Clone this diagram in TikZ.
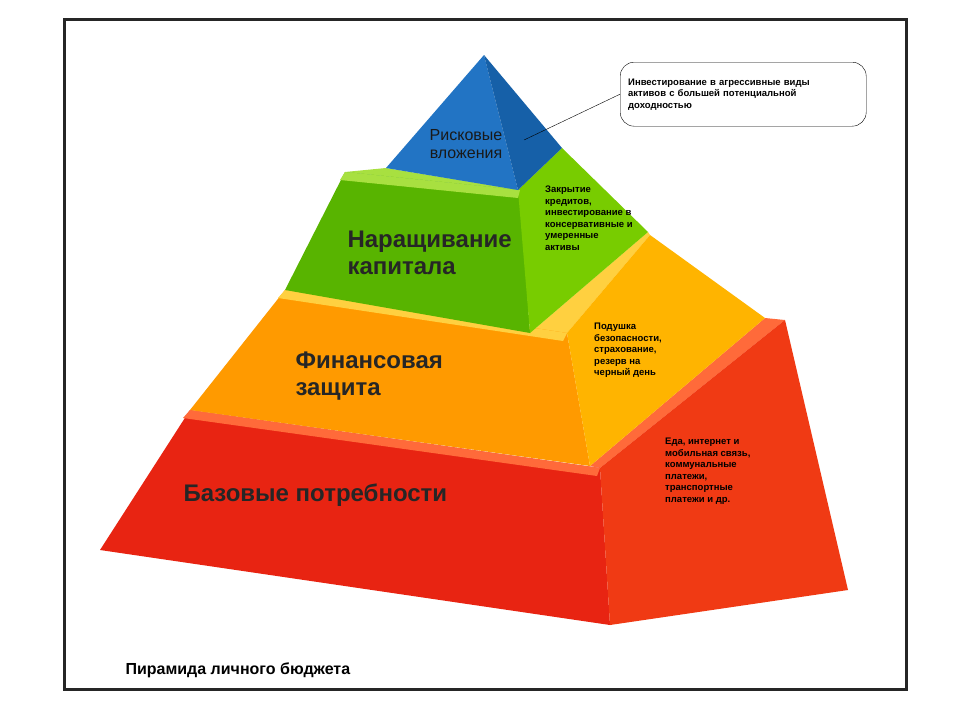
\documentclass[tikz,border=0pt]{standalone}
\usepackage{fontspec}
\setmainfont{Liberation Sans}
\begin{document}
\begin{tikzpicture}[x=1pt,y=-1pt,
  big/.style={font=\fontsize{24}{27}\selectfont\bfseries,text=black!85,align=left,anchor=west},
  small/.style={font=\fontsize{9.5}{11.5}\selectfont\bfseries,align=left,anchor=north west,inner sep=0pt}]
\definecolor{redF}{HTML}{E82412}
\definecolor{redR}{HTML}{F03A14}
\definecolor{redT}{HTML}{FF6A3A}
\definecolor{orF}{HTML}{FF9A00}
\definecolor{orR}{HTML}{FFB400}
\definecolor{orT}{HTML}{FFD040}
\definecolor{grF}{HTML}{58B400}
\definecolor{grR}{HTML}{78CC00}
\definecolor{grT}{HTML}{A8E040}
\definecolor{blF}{HTML}{2274C4}
\definecolor{blR}{HTML}{1660A8}
\useasboundingbox (0,0) rectangle (960,720);
\fill[white] (0,0) rectangle (960,720);
\draw[line width=3pt,black!85] (64,19) rectangle (906,689);
% red layer
\fill[redT] (590,466) -- (765,318) -- (785,320) -- (600,468) -- cycle;
\fill[redF] (190,410) -- (600,468) -- (610,625) -- (100,550) -- cycle;
\fill[redR] (600,468) -- (785,320) -- (848,590) -- (610,625) -- cycle;
\fill[redT] (190,410) -- (600,468) -- (597,476) -- (183,418) -- cycle;
% orange layer
\fill[orT] (530,333) -- (648,232) -- (650,235) -- (567,333) -- cycle;
\fill[orF] (285,290) -- (567,333) -- (590,466) -- (190,410) -- cycle;
\fill[orR] (567,333) -- (650,235) -- (765,318) -- (590,466) -- cycle;
\fill[orT] (285,290) -- (567,333) -- (563,341) -- (278,298) -- cycle;
% green layer
\fill[grT] (386,168) -- (345,172) -- (520,190) -- cycle;
\fill[grF] (345,172) -- (520,190) -- (530,333) -- (285,290) -- cycle;
\fill[grR] (518,190) -- (562,148) -- (648,232) -- (530,333) -- cycle;
\fill[grT] (345,172) -- (520,190) -- (518,198) -- (340,180) -- cycle;
% blue top
\fill[blF] (484,55) -- (518,190) -- (386,168) -- cycle;
\fill[blR] (484,55) -- (562,148) -- (518,190) -- cycle;
% texts
\node[font=\fontsize{16}{18}\selectfont,text=black!90,align=center] (t1) at (466,144) {Рисковые\\вложения};
\node[big] (t2) at (344,253) {Наращивание\\капитала};
\node[big] (t3) at (292,376) {Финансовая\\защита};
\node[big] (t4) at (180,495) {Базовые потребности};
\node[small] (s2) at (545,186) {Закрытие\\кредитов,\\инвестирование в\\консервативные и\\умеренные\\активы};
\node[small] (s3) at (594,323) {Подушка\\безопасности,\\страхование,\\резерв на\\черный день};
\node[small] (s4) at (665,438) {Еда, интернет и\\мобильная связь,\\коммунальные\\платежи,\\транспортные\\платежи и др.};
\node[draw,rounded corners=14pt,minimum width=246pt,minimum height=64pt,anchor=north west,
  font=\fontsize{9.5}{11.5}\selectfont\bfseries,align=left,text width=230pt] (call) at (620,62)
  {Инвестирование в агрессивные виды\\активов с большей потенциальной\\доходностью\\[12pt]};
\coordinate (tip) at (524,140);
\draw (call.west) -- (tip);
\node[font=\fontsize{16}{18}\selectfont\bfseries,anchor=west] (cap) at (122,670) {Пирамида личного бюджета};
\end{tikzpicture}
\end{document}
